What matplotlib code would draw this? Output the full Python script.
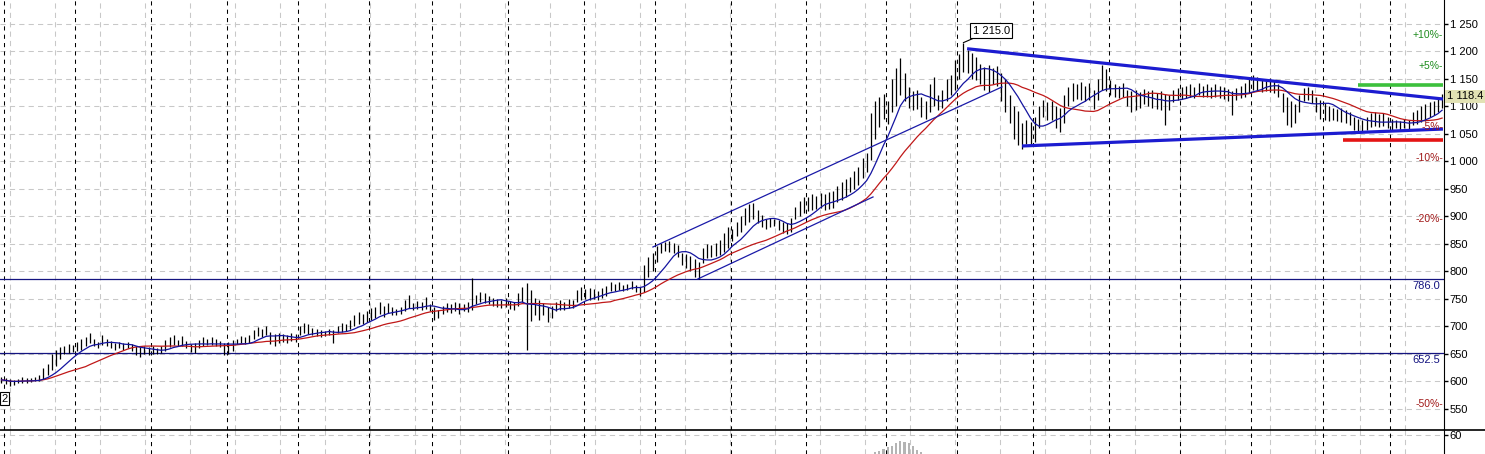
import matplotlib.pyplot as plt
import numpy as np
import pandas as pd
from matplotlib.lines import Line2D

plt.rcParams['font.family'] = ['Liberation Sans', 'DejaVu Sans']

# daily bars (high / low)
highs = [608, 606, 604, 603, 605, 608, 607, 606, 609, 612,
         625, 632, 650, 658, 662, 664, 668, 666, 672, 678,
         680, 688, 678, 672, 684, 678, 674, 670, 672, 670,
         672, 668, 664, 662, 665, 662, 664, 660, 665, 676,
         680, 684, 676, 682, 674, 668, 670, 675, 680, 678,
         681, 678, 674, 670, 672, 676, 678, 682, 680, 684,
         694, 699, 696, 700, 690, 686, 688, 686, 684, 688,
         686, 700, 706, 704, 698, 695, 694, 692, 696, 694,
         700, 706, 704, 712, 720, 726, 722, 728, 733, 736,
         744, 738, 742, 735, 732, 736, 748, 757, 742, 746,
         744, 753, 740, 736, 730, 738, 742, 740, 745, 742,
         740, 744, 788, 758, 762, 760, 756, 752, 750, 748,
         752, 746, 744, 760, 772, 779, 766, 752, 748, 742,
         736, 738, 744, 748, 745, 750, 748, 766, 772, 768,
         770, 768, 764, 770, 774, 780, 778, 780, 776, 778,
         782, 776, 772, 812, 826, 834, 846, 852, 854, 856,
         852, 848, 834, 832, 828, 822, 818, 842, 850, 848,
         852, 858, 870, 880, 878, 890, 900, 915, 922, 925,
         912, 902, 896, 898, 896, 894, 890, 888, 897, 918,
         928, 935, 936, 940, 938, 942, 940, 944, 946, 956,
         962, 968, 972, 982, 990, 1006, 1016, 1088, 1110, 1117,
         1122, 1110, 1150, 1170, 1188, 1160, 1135, 1128, 1130, 1117,
         1110, 1140, 1154, 1120, 1130, 1150, 1158, 1185, 1195, 1215,
         1203, 1198, 1190, 1178, 1172, 1176, 1170, 1174, 1160, 1150,
         1120, 1100, 1092, 1070, 1075, 1072, 1080, 1100, 1112, 1108,
         1110, 1100, 1098, 1120, 1136, 1142, 1140, 1145, 1138, 1142,
         1130, 1150, 1175, 1168, 1148, 1140, 1138, 1142, 1130, 1128,
         1130, 1126, 1132, 1128, 1130, 1124, 1128, 1122, 1120, 1130,
         1134, 1136, 1138, 1140, 1136, 1142, 1138, 1140, 1136, 1140,
         1138, 1135, 1132, 1128, 1134, 1138, 1142, 1150, 1158, 1154,
         1150, 1148, 1152, 1146, 1140, 1125, 1118, 1110, 1104, 1120,
         1134, 1136, 1130, 1118, 1112, 1106, 1100, 1098, 1096, 1098,
         1094, 1090, 1080, 1078, 1076, 1080, 1088, 1090, 1086, 1088,
         1080, 1078, 1076, 1074, 1078, 1076, 1090, 1094, 1100, 1104, 1108, 1110, 1116, 1122]
lows = [598, 596, 592, 594, 597, 598, 597, 599, 600, 601,
        605, 612, 620, 628, 640, 650, 652, 654, 656, 658,
        664, 670, 664, 660, 666, 664, 660, 658, 660, 658,
        660, 656, 648, 645, 650, 648, 650, 650, 652, 656,
        662, 666, 664, 665, 660, 654, 652, 660, 664, 666,
        667, 664, 662, 648, 650, 656, 668, 670, 668, 670,
        678, 682, 680, 684, 668, 664, 670, 672, 670, 674,
        672, 684, 688, 686, 684, 682, 680, 682, 684, 670,
        688, 690, 692, 696, 700, 704, 704, 708, 712, 716,
        722, 718, 724, 720, 720, 722, 728, 734, 730, 732,
        730, 732, 728, 712, 716, 722, 726, 724, 728, 722,
        728, 726, 730, 740, 744, 742, 740, 738, 736, 734,
        736, 732, 730, 738, 745, 657, 710, 720, 712, 720,
        708, 716, 728, 730, 730, 734, 734, 744, 748, 750,
        748, 750, 748, 752, 756, 764, 764, 766, 764, 766,
        768, 762, 756, 762, 790, 800, 818, 834, 838, 836,
        834, 826, 812, 806, 800, 790, 787, 816, 824, 826,
        828, 830, 836, 842, 856, 864, 872, 884, 890, 896,
        888, 880, 878, 880, 882, 876, 870, 868, 872, 895,
        900, 906, 910, 912, 914, 916, 912, 914, 916, 926,
        930, 936, 944, 950, 958, 970, 980, 1003, 1040, 1063,
        1078, 1068, 1090, 1100, 1120, 1110, 1098, 1094, 1096, 1080,
        1078, 1090, 1100, 1094, 1098, 1110, 1120, 1130, 1150, 1162,
        1160, 1150, 1148, 1140, 1130, 1126, 1140, 1138, 1110, 1090,
        1070, 1040, 1030, 1022, 1032, 1030, 1036, 1060, 1080, 1076,
        1076, 1060, 1054, 1070, 1100, 1110, 1114, 1112, 1110, 1112,
        1096, 1112, 1130, 1128, 1120, 1118, 1116, 1118, 1100, 1090,
        1094, 1098, 1104, 1100, 1098, 1096, 1094, 1066, 1094, 1108,
        1112, 1114, 1116, 1118, 1116, 1120, 1118, 1117, 1116, 1118,
        1116, 1114, 1110, 1085, 1112, 1116, 1118, 1124, 1130, 1128,
        1126, 1128, 1126, 1124, 1118, 1090, 1066, 1062, 1070, 1090,
        1110, 1112, 1106, 1090, 1078, 1076, 1074, 1076, 1074, 1072,
        1070, 1066, 1058, 1056, 1054, 1058, 1062, 1064, 1062, 1064,
        1060, 1058, 1060, 1058, 1060, 1058, 1066, 1068, 1072, 1074, 1080, 1084, 1090, 1098]
last_close = 1118.4

# volume that pokes into the lower pane
vol_start = 208
volume = [26, 28, 32, 36, 38, 44, 48, 46, 44, 38, 30, 26]

# first bar of each month
month_starts = [1, 18, 36, 54, 71, 88, 103, 121, 139, 156, 174, 192, 211, 228, 246, 264, 281, 298, 315, 331]

# support / resistance levels
levels = [786.0, 652.5]
pct_levels = [0.10, 0.05, -0.05, -0.10, -0.20, -0.50]

# drawn trendlines: (bar from, bar to), (price from, price to)
channel_up = ([155.1, 238.2], [844.5, 1135.5])
channel_lo = ([165.8, 207.5], [786.4, 935.5])
tri_top = ([229.9, 343.2], [1205.0, 1113.6])
tri_bot = ([243.0, 343.2], [1028.2, 1059.0])
target_hi = ([323.0, 343.2], 1139.0)
target_lo = ([319.4, 343.2], 1039.0)


def fmt_price(v, decimals=0):
    s = f"{v:,.{decimals}f}"
    return s.replace(",", " ")


fig = plt.figure(figsize=(14.85, 4.54), dpi=100)
W = 1444 / 1485
axv = fig.add_axes([0, 0, W, 24 / 454])
ax = fig.add_axes([0, 24 / 454, W, 430 / 454])
axv.patch.set_alpha(0)
ax.patch.set_alpha(0)

n = len(highs)
x = np.arange(n)
xlim = (-0.357, 343.45)

# grid
grid_x = np.arange(2.0, n, 45 / 4.2)
for a in (ax, axv):
    for g in grid_x:
        a.axvline(g, color='#c8c8c8', lw=0.75, ls=(0, (5, 4)), zorder=0)
    for m in month_starts:
        a.axvline(m - 0.4, color='black', lw=0.75, ls=(0, (4, 4)), zorder=1)
for t in range(550, 1300, 50):
    ax.axhline(t, color='#c8c8c8', lw=0.75, ls=(0, (5, 4)), zorder=0)

for lv in levels:
    ax.axhline(lv, color='#141480', lw=0.9, zorder=2)
    ax.text(342.5, lv - 4, f"{lv:.1f}", color='#141480', fontsize=8,
            ha='right', va='top')

# bars and moving averages
ax.vlines(x, lows, highs, color='black', lw=0.9, zorder=3)
mid = (np.array(highs) + np.array(lows)) / 2
mid[-1] = last_close
ma_fast = pd.Series(mid).rolling(8, min_periods=1).mean()
ma_slow = pd.Series(mid).rolling(21, min_periods=1).mean()
ax.plot(x, ma_slow, color='#c01818', lw=0.9, zorder=4)
ax.plot(x, ma_fast, color='#1414a0', lw=0.9, zorder=4)

# trendlines
for xs, ys in (channel_up, channel_lo):
    ax.plot(xs, ys, color='#1a1aa8', lw=0.9, zorder=5)
for xs, ys in (tri_top, tri_bot):
    ax.plot(xs, ys, color='#1c1cd0', lw=2.3, zorder=5, solid_capstyle='butt')
ax.plot(target_hi[0], [target_hi[1]] * 2, color='#3cc03c', lw=2.6, zorder=5, solid_capstyle='butt')
ax.plot(target_lo[0], [target_lo[1]] * 2, color='#e41414', lw=2.6, zorder=5, solid_capstyle='butt')

# percent labels relative to last close
for p in pct_levels:
    col = '#1e8c1e' if p > 0 else '#a01818'
    ax.text(343.3, last_close * (1 + p), f"{p * 100:+.0f}%-", color=col,
            fontsize=7.5, ha='right', va='center', zorder=6)

# high label
top_i = int(np.argmax(highs))
ax.annotate(fmt_price(highs[top_i], 1), xy=(top_i, highs[top_i] + 1),
            xytext=(231.2, 1238), fontsize=8, ha='left', va='center',
            bbox=dict(boxstyle='square,pad=0.2', fc='white', ec='black', lw=0.8),
            arrowprops=dict(arrowstyle='-', color='black', lw=0.8, shrinkA=0, shrinkB=0),
            zorder=7)

# last price box on the axis
ax.text(1.002, last_close, fmt_price(last_close, 1), transform=ax.get_yaxis_transform(),
        fontsize=8, ha='left', va='center', clip_on=False,
        bbox=dict(boxstyle='square,pad=0.15', fc='#e2e2b4', ec='none'), zorder=8)

# low label at the left edge (only its last digit shows)
ax.text(0.0, 569, '2', fontsize=8, ha='left', va='center',
        bbox=dict(boxstyle='square,pad=0.15', fc='white', ec='black', lw=0.8))

ax.set_xlim(*xlim)
ax.set_ylim(511.8, 1293.6)
ax.yaxis.tick_right()
ax.set_yticks(range(550, 1300, 50))
ax.set_yticklabels([fmt_price(t) for t in range(550, 1300, 50)])
ax.tick_params(axis='y', length=3, width=1, pad=1, labelsize=8, colors='black')
ax.set_xticks([])
for s in ('top', 'left', 'bottom'):
    ax.spines[s].set_visible(False)
ax.spines['right'].set_color('black')

# pane separator runs the full width of the window
fig.add_artist(Line2D([0, 1], [24 / 454, 24 / 454], color='black', lw=1.2,
                      transform=fig.transFigure))

# volume pane
axv.bar(np.arange(vol_start, vol_start + len(volume)), volume, width=0.5,
        color='#b4b4b4', zorder=2)
axv.axhline(60, color='#c8c8c8', lw=0.75, ls=(0, (5, 4)), zorder=0)
axv.set_xlim(*xlim)
axv.set_ylim(22, 70)
axv.yaxis.tick_right()
axv.set_yticks([60])
axv.tick_params(axis='y', length=3, width=1, pad=1, labelsize=8)
axv.set_xticks([])
for s in ('top', 'left', 'bottom'):
    axv.spines[s].set_visible(False)

fig.savefig('out.png', dpi=100)
